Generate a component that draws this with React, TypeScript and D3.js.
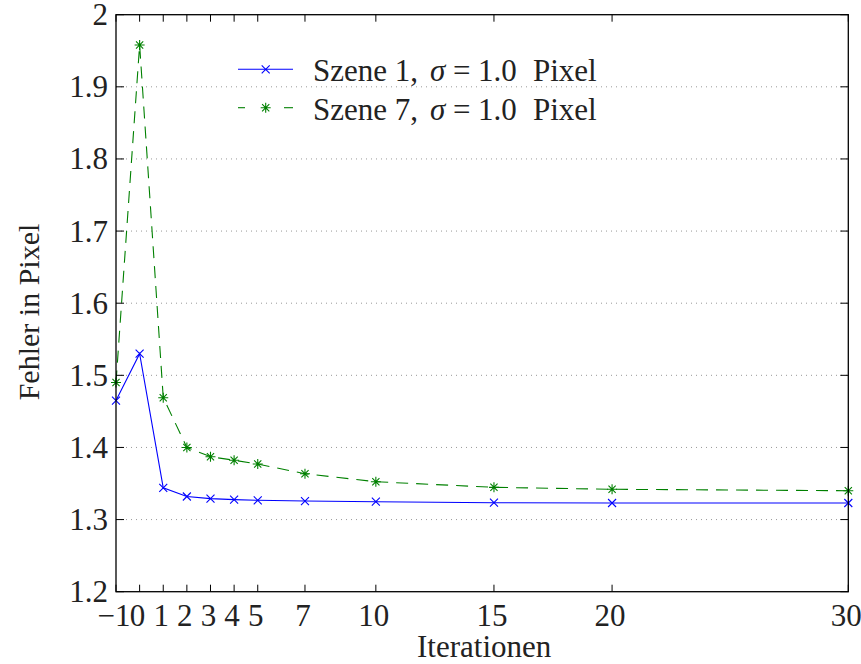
import React from "react";
import * as d3 from "d3";

const iterations = [-1, 0, 1, 2, 3, 4, 5, 7, 10, 15, 20, 30];
const szene1 = [1.465, 1.53, 1.344, 1.332, 1.329, 1.3276, 1.3267, 1.3257, 1.3248, 1.3234, 1.323, 1.323];
const szene7 = [1.49, 1.958, 1.469, 1.4, 1.3872, 1.3822, 1.377, 1.3636, 1.3525, 1.3447, 1.342, 1.34];
const xTicks = [-1, 0, 1, 2, 3, 4, 5, 7, 10, 15, 20, 30];
const yTicks = [1.2, 1.3, 1.4, 1.5, 1.6, 1.7, 1.8, 1.9, 2];

const W = 861, H = 664;
const L = 116, R = 848.3, T = 14.7, B = 591.7;
const FONT = "'Liberation Serif', 'DejaVu Serif', serif";

export default function App() {
  const x = d3.scaleLinear().domain([-1, 30]).range([L, R]);
  const y = d3.scaleLinear().domain([1.2, 2]).range([B, T]);
  const line = d3.line<number>().x((_, i) => x(iterations[i])).y((d) => y(d));

  const cross = (cx: number, cy: number, s: number, color: string, key: string) => (
    <path key={key} d={`M${cx - s},${cy - s}L${cx + s},${cy + s}M${cx - s},${cy + s}L${cx + s},${cy - s}`} stroke={color} strokeWidth={1.1} fill="none" />
  );
  const star = (cx: number, cy: number, s: number, color: string, key: string) => {
    const d = s * 0.72;
    return (
      <path key={key} d={`M${cx - s},${cy}L${cx + s},${cy}M${cx},${cy - s}L${cx},${cy + s}M${cx - d},${cy - d}L${cx + d},${cy + d}M${cx - d},${cy + d}L${cx + d},${cy - d}`} stroke={color} strokeWidth={1.1} fill="none" />
    );
  };

  const fmtY = (v: number) => (v === 2 ? "2" : v.toFixed(1));
  const fmtX = (v: number) => (v < 0 ? "\u2212" + Math.abs(v) : String(v));

  const legendRows = [
    { label: "1", color: "#0000ff", dash: "none", marker: "x", ly: 69.3, ty: 81 },
    { label: "7", color: "#008000", dash: "dash", marker: "*", ly: 107.7, ty: 119.5 },
  ];

  return (
    <svg width={W} height={H} style={{ position: "absolute", left: 0, top: 0, background: "#fff" }} fontFamily={FONT}>
      <rect x={0} y={0} width={W} height={H} fill="#fff" />
      {yTicks.filter((v) => v > 1.2 && v < 2).map((v) => (
        <line key={"g" + v} x1={L} x2={R} y1={y(v)} y2={y(v)} stroke="#999" strokeWidth={1} strokeDasharray="1,4" />
      ))}
      <path d={line(szene1) || ""} stroke="#0000ff" strokeWidth={1.1} fill="none" />
      <path d={line(szene7) || ""} stroke="#008000" strokeWidth={1.1} fill="none" strokeDasharray="12,8" />
      {szene1.map((v, i) => cross(x(iterations[i]), y(v), 4, "#0000ff", "c" + i))}
      {szene7.map((v, i) => star(x(iterations[i]), y(v), 5, "#008000", "s" + i))}
      <rect x={L} y={T} width={R - L} height={B - T} fill="none" stroke="#000" strokeWidth={1.3} />
      {xTicks.map((v) => (
        <g key={"xt" + v}>
          <line x1={x(v)} x2={x(v)} y1={B} y2={B - 7} stroke="#000" strokeWidth={1} />
          <line x1={x(v)} x2={x(v)} y1={T} y2={T + 7} stroke="#000" strokeWidth={1} />
          <text x={x(v) - 2} y={626} fontSize={31} textAnchor="middle" fill="#222">{fmtX(v)}</text>
        </g>
      ))}
      {yTicks.map((v) => (
        <g key={"yt" + v}>
          <line x1={L} x2={L + 8} y1={y(v)} y2={y(v)} stroke="#000" strokeWidth={1} />
          <line x1={R} x2={R - 8} y1={y(v)} y2={y(v)} stroke="#000" strokeWidth={1} />
          <text x={108} y={y(v) + 10.5} fontSize={31} textAnchor="end" fill="#222">{fmtY(v)}</text>
        </g>
      ))}
      <text x={(L + R) / 2 + 2} y={657} fontSize={31} textAnchor="middle" fill="#222">Iterationen</text>
      <text transform={`translate(39,312) rotate(-90)`} fontSize={30} textAnchor="middle" fill="#222">Fehler in Pixel</text>
      {legendRows.map((r) => (
        <g key={"lg" + r.label}>
          {r.dash === "none" ? (
            <line x1={238} x2={293} y1={r.ly} y2={r.ly} stroke={r.color} strokeWidth={1.1} />
          ) : (
            <g>
              <line x1={238} x2={245} y1={r.ly} y2={r.ly} stroke={r.color} strokeWidth={1.1} />
              <line x1={284} x2={293} y1={r.ly} y2={r.ly} stroke={r.color} strokeWidth={1.1} />
            </g>
          )}
          {r.marker === "x" ? cross(265.7, r.ly, 4, r.color, "lm" + r.label) : star(265.7, r.ly, 5, r.color, "lm" + r.label)}
          <text y={r.ty} fontSize={31} fill="#222">
            <tspan x={313}>{`Szene ${r.label},`}</tspan>
            <tspan x={430} fontStyle="italic">σ</tspan>
            <tspan x={453}>=</tspan>
            <tspan x={478}>1.0</tspan>
            <tspan x={533}>Pixel</tspan>
          </text>
        </g>
      ))}
    </svg>
  );
}
